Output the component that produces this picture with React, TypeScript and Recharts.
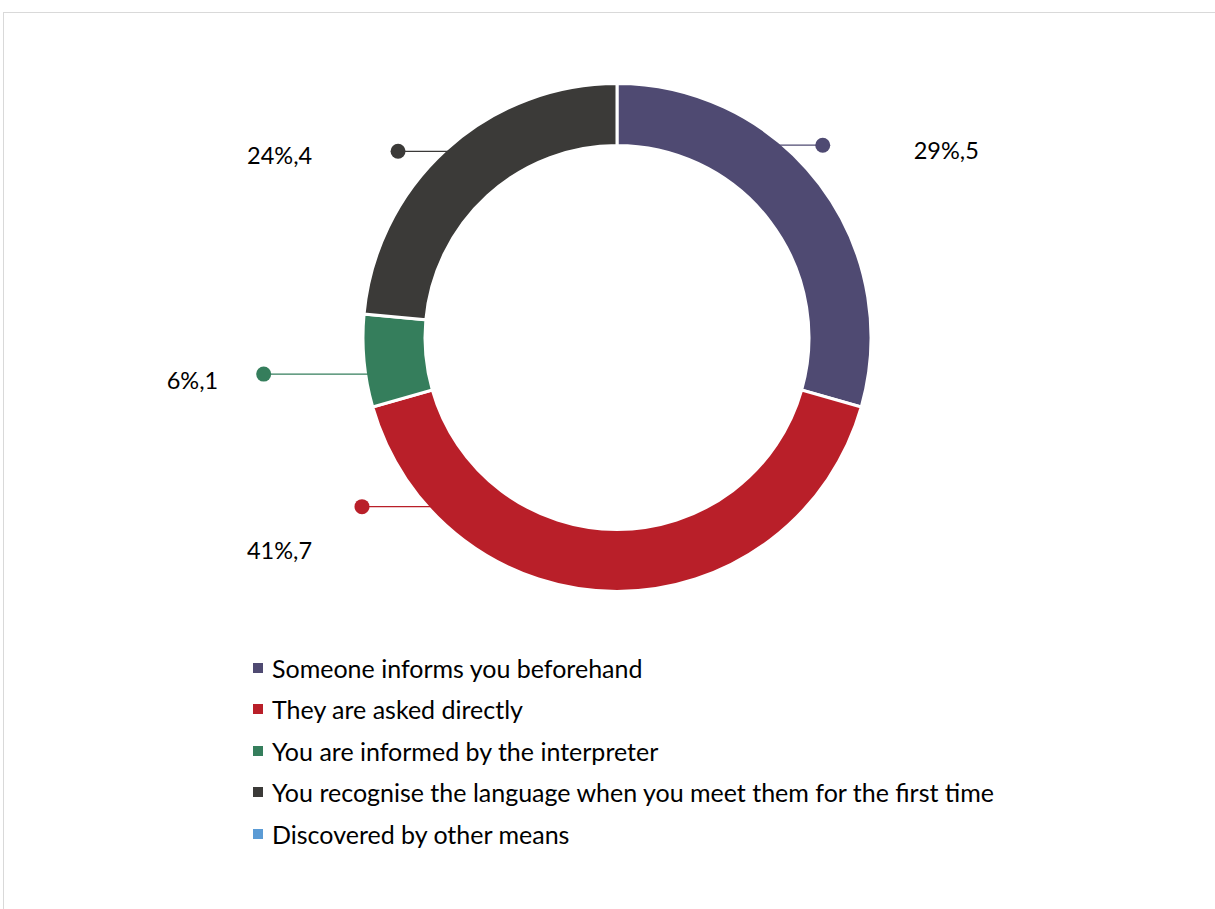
import React from 'react';
import { PieChart, Pie, Cell, Legend } from 'recharts';

const categories = [
  'Someone informs you beforehand',
  'They are asked directly',
  'You are informed by the interpreter',
  'You recognise the language when you meet them for the first time',
  'Discovered by other means',
];
const counts = [5, 7, 1, 4, 0];
const colors = ['#4F4A72', '#B91F29', '#357E5C', '#3B3A38', '#5B9BD5'];

// leader dot position (in units of outer radius, relative to centre) and text offset from dot (px)
const labelLayout = [
  { dx: 0.81, dy: -0.757, tx: 91, ty: 8 },
  { dx: -1.004, dy: 0.666, tx: -115, ty: 46 },
  { dx: -1.391, dy: 0.144, tx: -97, ty: 9 },
  { dx: -0.862, dy: -0.733, tx: -151, ty: 7 },
  { dx: 0, dy: 0, tx: 0, ty: 0 },
];

const data = categories.map((name, i) => ({ name, value: counts[i] }));
const FONT = 'Lato, "Open Sans", sans-serif';
const CX = 617;
const CY = 337.5;

const renderLabel = (props: any) => {
  const { index, value, percent } = props;
  if (!value) return null;
  const cx = typeof props.cx === 'number' ? props.cx : CX;
  const cy = typeof props.cy === 'number' ? props.cy : CY;
  const R = props.outerRadius;
  const L = labelLayout[index];
  const dotX = cx + L.dx * R;
  const dotY = cy + L.dy * R;
  const dyp = dotY - cy;
  const half = Math.sqrt(Math.max(R * R - dyp * dyp, 0));
  const ringX = dotX > cx ? cx + half - 4 : cx - half + 4;
  const color = colors[index];
  return (
    <g key={`lbl-${index}`}>
      <line x1={ringX} y1={dotY} x2={dotX} y2={dotY} stroke={color} strokeWidth={1.2} />
      <circle cx={dotX} cy={dotY} r={7.5} fill={color} />
      <text
        x={dotX + L.tx}
        y={dotY + L.ty}
        fill="#000"
        fontFamily={FONT}
        fontSize={23.5}
        textAnchor="start"
        dominantBaseline="middle"
      >
        {`${Math.round(percent * 100)}%,${value}`}
      </text>
    </g>
  );
};

const renderLegend = (props: any) => {
  const raw = props.payload && props.payload.length ? props.payload : [];
  const items = categories.map((name, i) => {
    const p = raw.find((q: any) => q.value === name);
    return { value: name, color: (p && p.color) || colors[i] };
  });
  return (
    <div style={{ fontFamily: FONT, fontSize: 25, color: '#000', textAlign: 'left' }}>
      {items.map((p: any, i: number) => (
        <div key={i} style={{ display: 'flex', alignItems: 'center', height: 41.5 }}>
          <span style={{ display: 'inline-block', width: 10, height: 10, background: p.color, marginRight: 9 }} />
          <span>{p.value}</span>
        </div>
      ))}
    </div>
  );
};

export default function App() {
  return (
    <div style={{ position: 'absolute', left: 0, top: 0, width: 1215, height: 909, overflow: 'hidden', background: '#fff' }}>
      <div style={{ position: 'absolute', left: 3, top: 12, width: 1400, height: 1100, border: '1px solid #d9d9d9' }} />
      <div style={{ position: 'absolute', left: 0, top: 0 }}>
        <PieChart width={1215} height={909} margin={{ top: 0, right: 0, bottom: 0, left: 0 }}>
          <Pie
            data={data}
            dataKey="value"
            nameKey="name"
            cx={CX}
            cy={CY}
            outerRadius={254}
            innerRadius={192}
            startAngle={90}
            endAngle={-270}
            stroke="#fff"
            strokeWidth={3}
            label={renderLabel}
            labelLine={false}
            isAnimationActive={false}
          >
            {data.map((d, i) => (
              <Cell key={d.name} fill={colors[i]} />
            ))}
          </Pie>
          <Legend
            layout="horizontal"
            verticalAlign="bottom"
            align="left"
            content={renderLegend}
            wrapperStyle={{ position: 'absolute', left: 253, top: 647, bottom: 'auto', width: 900 }}
          />
        </PieChart>
      </div>
    </div>
  );
}
